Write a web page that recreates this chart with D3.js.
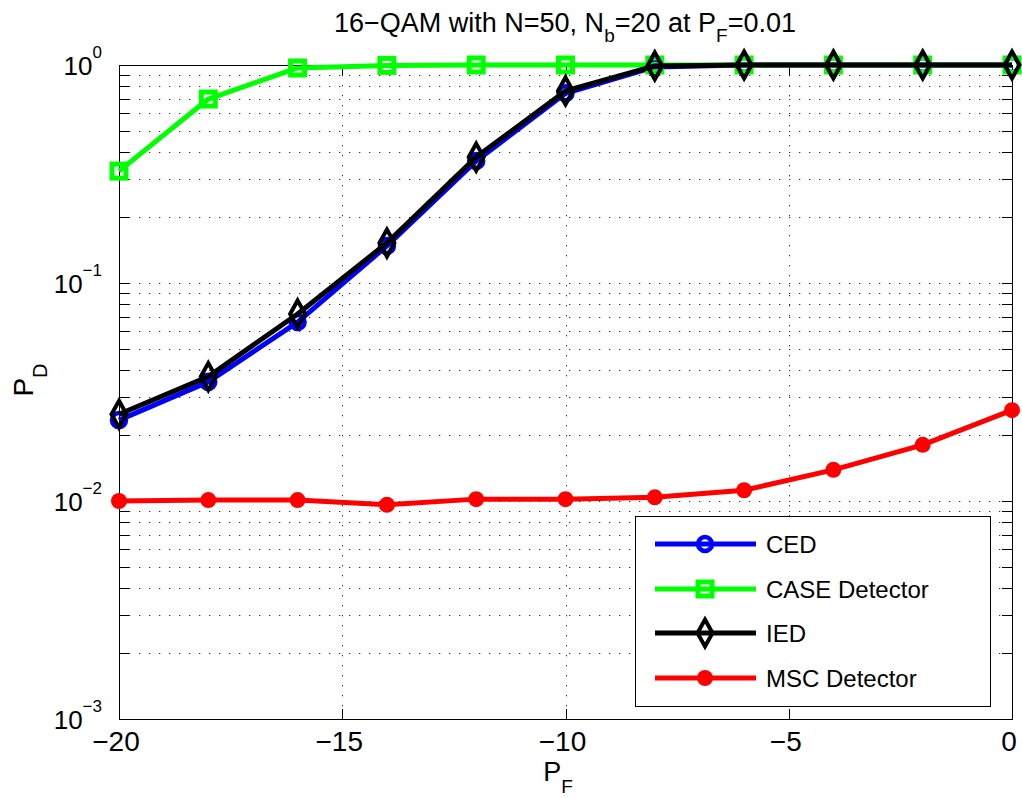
<!DOCTYPE html>
<html>
<head>
<meta charset="utf-8">
<script src="https://cdn.jsdelivr.net/npm/d3@7"></script>
<style>
  html, body { margin: 0; padding: 0; background: #fff; }
  svg { display: block; font-family: "Liberation Sans", Arial, Helvetica, sans-serif; }
</style>
</head>
<body>
<svg id="chart" width="1022" height="798"></svg>
<script>
// P_F sweep (x axis) shared by every detector
const pf = [-20, -18, -16, -14, -12, -10, -8, -6, -4, -2, 0];

// Detection probability per detector
const ced  = [0.0235, 0.0352, 0.0662, 0.148, 0.363, 0.742, 0.98, 1.0, 1.0, 1.0, 1.0];
const caseDet = [0.326, 0.698, 0.969, 0.996, 1.0, 1.0, 1.0, 1.0, 1.0, 1.0, 1.0];
const ied  = [0.0250, 0.0372, 0.0721, 0.1525, 0.378, 0.760, 0.99, 1.0, 1.0, 1.0, 1.0];
const msc  = [0.0100, 0.0101, 0.0101, 0.0096, 0.0102, 0.0102, 0.0104, 0.0112, 0.0139, 0.0181, 0.0261];

const seriesNames = ["CED", "CASE Detector", "IED", "MSC Detector"];
const seriesColors = ["#0000ff", "#00ff00", "#000000", "#ff0000"];
const seriesMarkers = ["circle", "square", "diamond", "dot"];

const xTicks = [-20, -15, -10, -5, 0];
const yDecades = [-3, -2, -1, 0];

const svg = d3.select("#chart");
const m = { left: 119, top: 65, right: 1012, bottom: 719 };

const x = d3.scaleLinear().domain([-20, 0]).range([m.left, m.right]);
const y = d3.scaleLog().domain([1e-3, 1]).range([m.bottom, m.top]);

// y grid values: every 1..9 multiple within each decade
const yGrid = [];
for (let e = -3; e < 0; e++) for (let k = 1; k <= 9; k++) yGrid.push(k * Math.pow(10, e));
yGrid.push(1);

const grid = svg.append("g").attr("stroke", "#333").attr("stroke-width", 1)
  .attr("stroke-dasharray", "1.3,8.7");
grid.selectAll("line.h").data(yGrid.filter(v => v > 1e-3 && v < 1)).join("line")
  .attr("x1", m.left).attr("x2", m.right)
  .attr("y1", d => Math.round(y(d)) + 0.5).attr("y2", d => Math.round(y(d)) + 0.5);
grid.selectAll("line.v").data(xTicks.slice(1, -1)).join("line")
  .attr("y1", m.top).attr("y2", m.bottom)
  .attr("x1", d => Math.round(x(d)) + 0.5).attr("x2", d => Math.round(x(d)) + 0.5);

// axes box with inward ticks on all four sides
const tickLen = 10;
const axes = svg.append("g").attr("stroke", "#000").attr("stroke-width", 1);
axes.append("rect").attr("x", m.left + 0.5).attr("y", m.top + 0.5)
  .attr("width", m.right - m.left).attr("height", m.bottom - m.top).attr("fill", "none");
xTicks.forEach(t => {
  const px = Math.round(x(t)) + 0.5;
  axes.append("line").attr("x1", px).attr("x2", px).attr("y1", m.bottom).attr("y2", m.bottom - tickLen);
  axes.append("line").attr("x1", px).attr("x2", px).attr("y1", m.top).attr("y2", m.top + tickLen);
});
yGrid.forEach(v => {
  const py = Math.round(y(v)) + 0.5;
  axes.append("line").attr("x1", m.left).attr("x2", m.left + tickLen).attr("y1", py).attr("y2", py);
  axes.append("line").attr("x1", m.right).attr("x2", m.right - tickLen).attr("y1", py).attr("y2", py);
});

// tick labels
const lab = svg.append("g").attr("fill", "#000");
xTicks.forEach(t => {
  lab.append("text").attr("x", x(t) - 3).attr("y", 751).attr("text-anchor", "middle")
    .attr("font-size", 28).text(t < 0 ? "\u2212" + Math.abs(t) : String(t));
});
yDecades.forEach(e => {
  const tx = lab.append("text").attr("x", 102).attr("y", y(Math.pow(10, e)) + 10)
    .attr("text-anchor", "end").attr("font-size", 26);
  tx.append("tspan").text("10");
  tx.append("tspan").attr("dy", -17).attr("font-size", 17).text(e < 0 ? "\u2212" + Math.abs(e) : String(e));
});

// title
const title = svg.append("text").attr("x", 565).attr("y", 32).attr("text-anchor", "middle")
  .attr("font-size", 27);
title.append("tspan").text("16\u2212QAM with N=50, N");
title.append("tspan").attr("dy", 10).attr("font-size", 19).text("b");
title.append("tspan").attr("dy", -10).text("=20 at P");
title.append("tspan").attr("dy", 10).attr("font-size", 19).text("F");
title.append("tspan").attr("dy", -10).text("=0.01");

// axis labels
const xl = svg.append("text").attr("x", 558).attr("y", 781).attr("text-anchor", "middle").attr("font-size", 27);
xl.append("tspan").text("P");
xl.append("tspan").attr("dy", 12).attr("font-size", 19).text("F");
const yl = svg.append("text").attr("transform", "translate(33,380) rotate(-90)")
  .attr("text-anchor", "middle").attr("font-size", 28);
yl.append("tspan").text("P");
yl.append("tspan").attr("dy", 14).attr("font-size", 20).text("D");

// marker drawing helper
function drawMarker(g, kind, color, cx, cy) {
  if (kind === "circle") {
    g.append("circle").attr("cx", cx).attr("cy", cy).attr("r", 7)
      .attr("fill", "none").attr("stroke", color).attr("stroke-width", 4.5);
  } else if (kind === "square") {
    g.append("rect").attr("x", cx - 7).attr("y", cy - 7).attr("width", 14).attr("height", 14)
      .attr("fill", "none").attr("stroke", color).attr("stroke-width", 5);
  } else if (kind === "diamond") {
    g.append("path").attr("d", `M${cx},${cy - 13.5}L${cx + 7.5},${cy}L${cx},${cy + 13.5}L${cx - 7.5},${cy}Z`)
      .attr("fill", "none").attr("stroke", color).attr("stroke-width", 4);
  } else {
    g.append("circle").attr("cx", cx).attr("cy", cy).attr("r", 8).attr("fill", color);
  }
}

const allSeries = [ced, caseDet, ied, msc];
const line = d3.line().x((d, i) => x(pf[i])).y(d => y(d));
const plot = svg.append("g");
allSeries.forEach((vals, si) => {
  const g = plot.append("g");
  g.append("path").datum(vals).attr("d", line).attr("fill", "none")
    .attr("stroke", seriesColors[si]).attr("stroke-width", 5).attr("stroke-linejoin", "round");
  vals.forEach((v, i) => drawMarker(g, seriesMarkers[si], seriesColors[si], x(pf[i]), y(v)));
});

// legend
const lg = svg.append("g");
lg.append("rect").attr("x", 635.5).attr("y", 516.5).attr("width", 355).attr("height", 190)
  .attr("fill", "#fff").attr("stroke", "#000").attr("stroke-width", 1);
const legendY = [544, 589, 633, 678];
seriesNames.forEach((name, i) => {
  const ly = legendY[i];
  lg.append("line").attr("x1", 655).attr("x2", 756).attr("y1", ly).attr("y2", ly)
    .attr("stroke", seriesColors[i]).attr("stroke-width", 5);
  drawMarker(lg, seriesMarkers[i], seriesColors[i], 705, ly);
  lg.append("text").attr("x", 766).attr("y", ly + 9).attr("font-size", 24).text(name);
});
</script>
</body>
</html>
